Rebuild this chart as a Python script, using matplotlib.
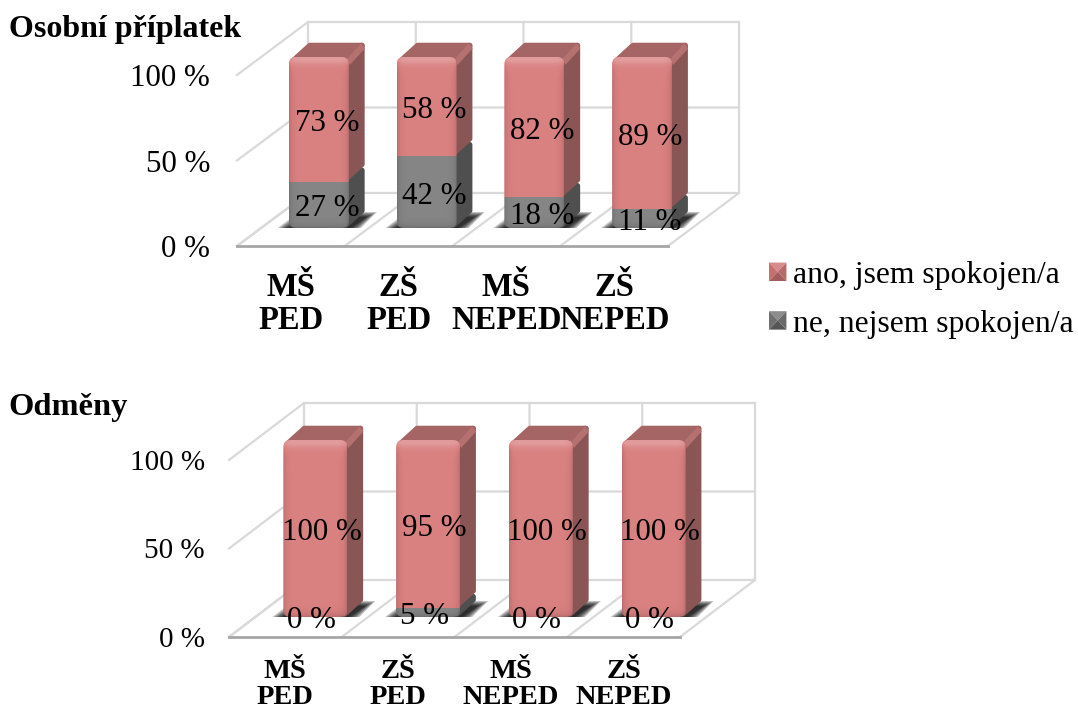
import numpy as np
import matplotlib
matplotlib.use("Agg")
import matplotlib.pyplot as plt
from matplotlib.legend_handler import HandlerBase
from matplotlib.patches import FancyBboxPatch, Patch, Polygon

plt.rcParams['font.family'] = ['Liberation Serif', 'DejaVu Serif']

# Data
categories = ["MŠ\nPED", "ZŠ\nPED", "MŠ\nNEPED", "ZŠ\nNEPED"]
plat_ano = [73, 58, 82, 89]
plat_ne = [27, 42, 18, 11]
odmeny_ano = [100, 95, 100, 100]
odmeny_ne = [0, 5, 0, 0]
y_ticks = [0, 50, 100]
y_tick_labels = ["0 %", "50 %", "100 %"]
legend_labels = ["ano, jsem spokojen/a", "ne, nejsem spokojen/a"]

W, H = 1078, 715
PINK = "#D98080"
PINK_SIDE = "#8A5555"
PINK_TOP = "#A56565"
GRAY = "#858585"
GRAY_SIDE = "#4F4F4F"
GRID = "#D9D9D9"
fig = plt.figure(figsize=(W / 100, H / 100), dpi=100)


def bevel(w, h):
    # shading over the bar front: dark at the sides, light at the top
    xs = np.arange(w) + 0.5
    ys = np.arange(h) + 0.5
    edge = np.minimum(xs, w - xs)
    side = 0.16 * np.exp(-edge / 2.5)
    xx, yy = np.meshgrid(side, ys)
    top = 0.22 * np.exp(-np.maximum(yy - 4, 0) / 4.0)
    bottom = 0.18 * np.exp(-(h - yy) / 3.0)
    dark = xx + bottom
    img = np.zeros((h, w, 4))
    img[..., :3] = (top > dark)[..., None].astype(float)
    img[..., 3] = np.clip(np.abs(top - dark), 0, 1)
    return img


def draw_chart(left, right, base, top, ppx, ppy, depth, bar, width_px, ano, ne, tick_fs, cat_fs, lab_fs,
               lab_dx_ano, lab_dx_ne, cat_pad, tick_pad, cat_ls):
    ax = fig.add_axes([left / W, 1 - base / H, (right - left) / W, (base - top) / H])
    ux, uy = 1 / ppx, 1 / ppy
    dx, dy = depth[0] * ux, depth[1] * uy
    off_x, off_y = bar[0] * ux, bar[1] * uy
    bw = width_px * ux
    sx, sy = 16 * ux, 14.5 * uy
    n = len(ano)

    # walls and floor
    for v in y_ticks:
        ax.plot([-0.5, -0.5 + dx, n - 0.5 + dx], [v, v + dy, v + dy], color=GRID, lw=1.6, zorder=1, clip_on=False)
    for i in range(n + 1):
        x0 = i - 0.5
        ax.plot([x0, x0 + dx, x0 + dx], [0, dy, 100 + dy], color=GRID, lw=1.6, zorder=1, clip_on=False)
    ax.plot([-0.5, n - 0.5], [0, 0], color="#A6A6A6", lw=2, zorder=2, clip_on=False)

    for i in range(n):
        x1 = i + off_x - bw / 2
        x2 = x1 + bw
        y0 = off_y
        h_all = ne[i] + ano[i]

        # shadow on the floor
        for g in range(6):
            e = g * 2
            pts = [(x1 - (11 - e) * ux, y0), (x2 + (12 - e) * ux, y0),
                   (x2 + (28 - e) * ux, y0 + (16 - g) * uy), (x1 + (10 + e) * ux, y0 + (16 - g) * uy)]
            ax.add_patch(Polygon(pts, closed=True, facecolor="black", edgecolor="none", alpha=0.24, zorder=3))

        # side and top faces
        in_x, in_y = 3 * ux, 3 * uy
        for bottom, val, col in [(0, ne[i], GRAY_SIDE), (ne[i], ano[i], PINK_SIDE)]:
            if val == 0:
                continue
            low = bottom + 3 * uy
            pts = [(x2 - 3 * ux, y0 + low), (x2 + sx - in_x, y0 + low + sy),
                   (x2 + sx - in_x, y0 + bottom + val + sy - in_y), (x2 - 3 * ux, y0 + bottom + val)]
            ax.add_patch(Polygon(pts, closed=True, facecolor=col, edgecolor=col, lw=4, joinstyle="round", zorder=4))
        pts = [(x1 + 4 * ux, y0 + h_all - 4 * uy), (x1 + sx + 5 * ux, y0 + h_all + sy - in_y),
               (x2 + sx - in_x, y0 + h_all + sy - in_y), (x2 - 3 * ux, y0 + h_all - 4 * uy)]
        ax.add_patch(Polygon(pts, closed=True, facecolor=PINK_TOP, edgecolor=PINK_TOP, lw=4, joinstyle="round", zorder=4))
        # lighter ridge between top and side
        pts = [(x2 - 2 * ux, y0 + h_all - 2 * uy), (x2 + sx - 4 * ux, y0 + h_all + sy - 1 * uy),
               (x2 + sx, y0 + h_all + sy - 6 * uy), (x2 + 1 * ux, y0 + h_all - 8 * uy)]
        ax.add_patch(Polygon(pts, closed=True, facecolor="#B57070", edgecolor="none", zorder=4))

        # front face, rounded
        round_box = FancyBboxPatch((x1, y0), bw, h_all, boxstyle=f"round,pad=0,rounding_size={7 * ux}",
                                   mutation_aspect=uy / ux, facecolor="none", edgecolor="none", zorder=5)
        ax.add_patch(round_box)
        segs = ax.bar(i + off_x, ne[i], bw, bottom=y0, color=GRAY, zorder=5)
        segs2 = ax.bar(i + off_x, ano[i], bw, bottom=y0 + ne[i], color=PINK, zorder=5)
        for p in list(segs) + list(segs2):
            p.set_clip_path(round_box)
        im = ax.imshow(bevel(int(width_px), int(h_all * ppy)), extent=(x1, x2, y0, y0 + h_all), aspect="auto",
                       interpolation="bilinear", zorder=6)
        im.set_clip_path(round_box)

        # value labels
        ax.text(i + off_x + lab_dx_ano * ux, y0 + ne[i] + ano[i] / 2 - 4 * uy, f"{ano[i]} %", ha="center", va="center",
                fontsize=lab_fs, color="black", zorder=8)
        ax.text(i + off_x + lab_dx_ne * ux, y0 + ne[i] / 2 - 4 * uy, f"{ne[i]} %", ha="center", va="center",
                fontsize=lab_fs, color="black", zorder=8)

    ax.set_xlim(-0.5, -0.5 + (right - left) / ppx)
    ax.set_ylim(0, (base - top) / ppy)
    ax.set_xticks(range(n))
    ax.set_xticklabels(categories, fontsize=cat_fs, fontweight="bold", linespacing=cat_ls)
    ax.set_yticks(y_ticks)
    ax.set_yticklabels(y_tick_labels, fontsize=tick_fs)
    ax.tick_params(axis="both", length=0)
    ax.tick_params(axis="y", pad=tick_pad)
    ax.tick_params(axis="x", pad=cat_pad)
    for s in ax.spines.values():
        s.set_visible(False)
    ax.patch.set_alpha(0)
    return ax


draw_chart(237, 740, 246, 22, 107.75, 1.71, (71, 53), (28, 18), 60, plat_ano, plat_ne, 22.3, 23.5, 22.3, 8, 8, 19, 19.5, 1.07)
draw_chart(229, 755, 637, 403, 112.75, 1.77, (75, 57), (30, 20), 64, odmeny_ano, odmeny_ne, 21, 20.5, 22.3, 6, -4, 16, 17.4, 1.03)

fig.text(9 / W, 1 - 30 / H, "Osobní příplatek", fontsize=23, fontweight="bold", ha="left", va="center")
fig.text(8 / W, 1 - 407 / H, "Odměny", fontsize=23.4, fontweight="bold", ha="left", va="center")


class PyramidHandler(HandlerBase):
    def create_artists(self, legend, orig, xd, yd, width, height, fontsize, trans):
        cols = orig.pyramid
        c = (xd * -1 + width / 2, -yd + height / 2)
        x0, x1, y0, y1 = -xd, -xd + width, -yd, -yd + height
        faces = [[(x0, y1), (x1, y1), c], [(x0, y0), (x0, y1), c],
                 [(x1, y0), (x1, y1), c], [(x0, y0), (x1, y0), c]]
        return [Polygon(f, closed=True, facecolor=col, edgecolor="none", transform=trans) for f, col in zip(faces, cols)]


h1 = Patch(label=legend_labels[0])
h1.pyramid = ["#D98C8C", "#C27070", "#B86A6A", "#A55C5C"]
h2 = Patch(label=legend_labels[1])
h2.pyramid = ["#8C8C8C", "#707070", "#6A6A6A", "#565656"]
fig.legend(handles=[h1, h2], labels=legend_labels, loc="upper left", bbox_to_anchor=(769 / W, 1 - 261 / H),
           frameon=False, fontsize=22.8, borderpad=0, borderaxespad=0, handlelength=0.55, handleheight=0.52,
           handletextpad=0.22, labelspacing=0.62, handler_map={Patch: PyramidHandler()})

fig.savefig("out.png", dpi=100)
